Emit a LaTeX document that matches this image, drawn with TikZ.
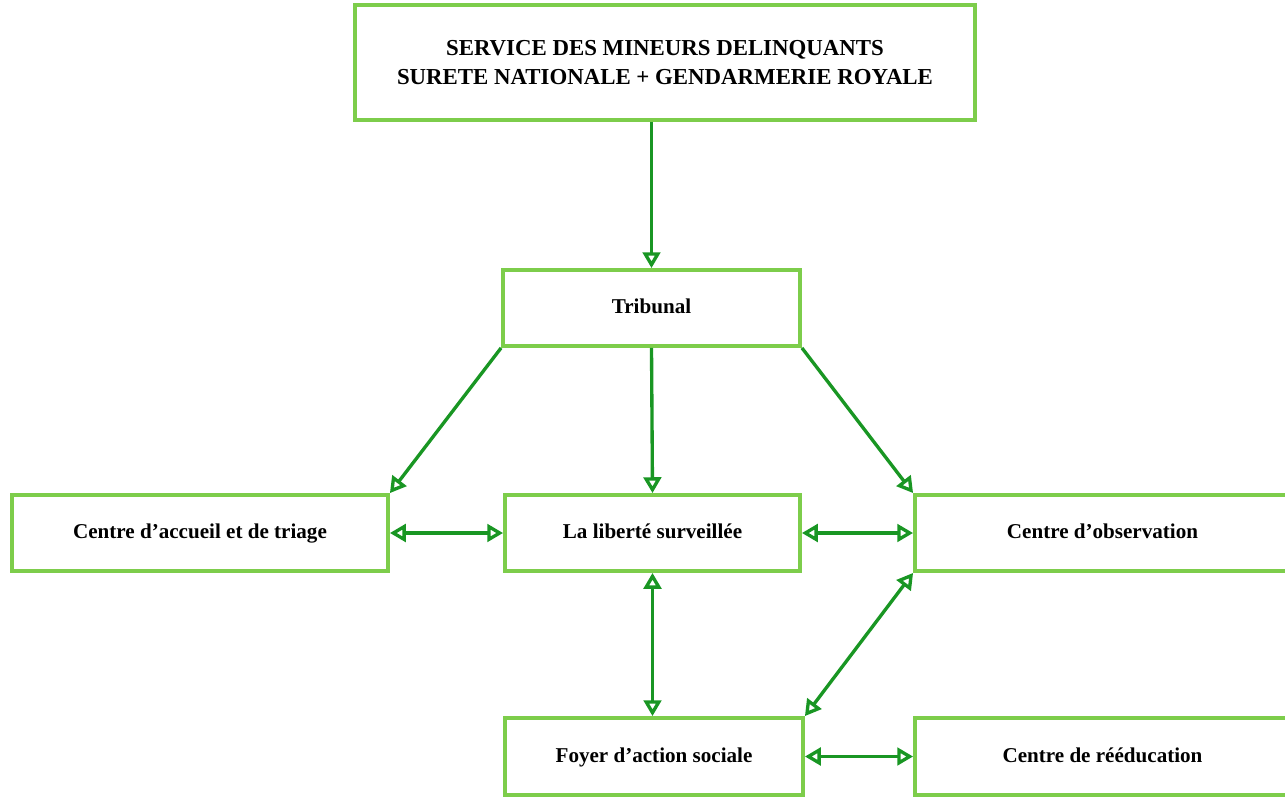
\documentclass[tikz,border=0pt]{standalone}
\usepackage{fontspec}
\setmainfont{Liberation Serif}
\usetikzlibrary{arrows.meta}
\definecolor{boxgreen}{RGB}{125,205,75}
\definecolor{arrowgreen}{RGB}{25,150,35}

\begin{document}
\begin{tikzpicture}[
    box/.style={draw=boxgreen, line width=2.2pt, fill=white, minimum height=1.52cm, font=\bfseries\fontsize{12}{14}\selectfont, text height=.75em, text depth=.1em},
    link/.style={draw=arrowgreen, line width=1.9pt, -{Triangle[open,length=9pt,width=10pt]}},
    both/.style={link, {Triangle[open,length=9pt,width=10pt]}-{Triangle[open,length=9pt,width=10pt]}}
  ]
    \useasboundingbox (0,0) rectangle (25.7,-15.94);
    \node[draw=boxgreen, line width=2.2pt, fill=white, minimum width=12.4cm, minimum height=2.3cm, align=center, font=\bfseries\fontsize{13}{16}\selectfont] (smd) at (13.3,-1.25) {SERVICE DES MINEURS DELINQUANTS\\SURETE NATIONALE + GENDARMERIE ROYALE};
    \node[box, minimum width=5.94cm] (trib) at (13.03,-6.16) {Tribunal};
    \node[box, minimum width=7.52cm] (accueil) at (4.0,-10.66) {Centre d'accueil et de triage};
    \node[box, minimum width=5.9cm] (liberte) at (13.05,-10.66) {La liberté surveillée};
    \node[box, minimum width=7.5cm] (observ) at (22.05,-10.66) {Centre d'observation};
    \node[box, minimum width=5.96cm, minimum height=1.54cm] (foyer) at (13.08,-15.13) {Foyer d'action sociale};
    \node[box, minimum width=7.5cm, minimum height=1.54cm] (reeduc) at (22.05,-15.13) {Centre de rééducation};

    \draw[link] (trib.north |- smd.south) -- (trib.north);
    \draw[link] (trib.south west) -- (accueil.north east);
    \draw[link] (trib.south) -- (liberte.north);
    \draw[link] (trib.south east) -- (observ.north west);
    \draw[both] (accueil.east) -- (liberte.west);
    \draw[both] (liberte.east) -- (observ.west);
    \draw[both] (liberte.south) -- (liberte.south |- foyer.north);
    \draw[both] (observ.south west) -- (foyer.north east);
    \draw[both] (foyer.east) -- (reeduc.west);
  \end{tikzpicture}
\end{document}
